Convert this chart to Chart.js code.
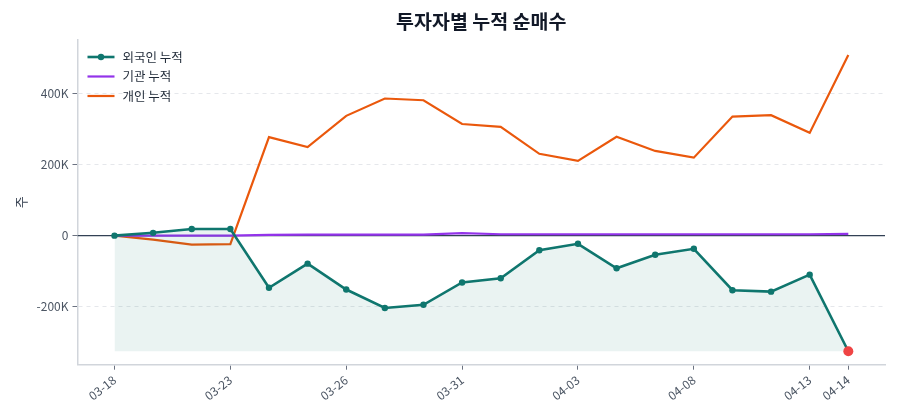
<!DOCTYPE html>
<html>
<head>
<meta charset="utf-8">
<script src="https://cdn.jsdelivr.net/npm/chart.js@4.4.1/dist/chart.umd.min.js"></script>
<style>
  html, body { margin: 0; padding: 0; background: #fff; }
  #wrap { width: 900px; height: 420px; position: relative; }
</style>
</head>
<body>
<div id="wrap"><canvas id="chart"></canvas></div>
<script>
const dates = ['03-18','03-19','03-20','03-23','03-24','03-25','03-26','03-27','03-30','03-31',
               '04-01','04-02','04-03','04-06','04-07','04-08','04-09','04-10','04-13','04-14'];
const tickIndices = [0, 3, 6, 9, 12, 15, 18, 19];
const yTicks = [-200000, 0, 200000, 400000];

// cumulative net buying (shares)
const foreign = [0, 8000, 19000, 19000, -147000, -79000, -152000, -204000, -195000, -132000,
                 -120000, -41000, -23000, -92000, -54000, -37000, -154000, -158000, -110000, -326000];
const institution = [0, 0, 0, 0, 2000, 3000, 3000, 3000, 3000, 7000,
                     4000, 4000, 4000, 4000, 4000, 4000, 4000, 4000, 4000, 5000];
const individual = [0, -11000, -25000, -24000, 278000, 250000, 338000, 387000, 382000, 315000,
                    307000, 231000, 211000, 279000, 239000, 220000, 336000, 340000, 290000, 510000];

const FONT = '"Noto Sans CJK KR", "Noto Sans", sans-serif';
const toXY = arr => arr.map((v, i) => ({x: i, y: v}));
const lastIdx = foreign.length - 1;

const titlePlugin = {
  id: 'areaTitle',
  afterDraw(chart) {
    const {ctx, chartArea} = chart;
    ctx.save();
    ctx.font = 'bold 19.5px ' + FONT;
    ctx.fillStyle = '#111827';
    ctx.textAlign = 'center';
    ctx.textBaseline = 'middle';
    ctx.fillText('투자자별 누적 순매수', (chartArea.left + chartArea.right) / 2, 22);
    ctx.restore();
  }
};

const zeroLine = {
  id: 'zeroLine',
  beforeDatasetsDraw(chart) {
    const {ctx, chartArea, scales} = chart;
    const y = scales.y.getPixelForValue(0);
    ctx.save();
    ctx.strokeStyle = '#334155';
    ctx.lineWidth = 1.3;
    ctx.beginPath();
    ctx.moveTo(chartArea.left, y);
    ctx.lineTo(chartArea.right, y);
    ctx.stroke();
    ctx.restore();
  }
};

const innerLegend = {
  id: 'innerLegend',
  afterDraw(chart) {
    const {ctx, chartArea} = chart;
    const x0 = chartArea.left + 10;
    let y = chartArea.top + 17;
    ctx.save();
    ctx.font = '12.5px ' + FONT;
    ctx.textBaseline = 'middle';
    chart.data.datasets.forEach(ds => {
      ctx.strokeStyle = ds.borderColor;
      ctx.lineWidth = ds.borderWidth;
      ctx.beginPath();
      ctx.moveTo(x0, y);
      ctx.lineTo(x0 + 27, y);
      ctx.stroke();
      if (ds.legendDot) {
        ctx.fillStyle = ds.borderColor;
        ctx.beginPath();
        ctx.arc(x0 + 13.5, y, 3.2, 0, Math.PI * 2);
        ctx.fill();
      }
      ctx.fillStyle = '#1f2937';
      ctx.fillText(ds.label, x0 + 35, y);
      y += 19.5;
    });
    ctx.restore();
  }
};

new Chart(document.getElementById('chart'), {
  type: 'line',
  data: {
    datasets: [
      {
        label: '외국인 누적',
        data: toXY(foreign),
        borderColor: '#0f766e',
        borderWidth: 2.6,
        legendDot: true,
        pointRadius: foreign.map((_, i) => i === lastIdx ? 5 : 3.2),
        pointBackgroundColor: foreign.map((_, i) => i === lastIdx ? '#ef4444' : '#0f766e'),
        pointBorderWidth: 0,
        fill: {value: Math.min(...foreign)},
        backgroundColor: 'rgba(15,118,110,0.085)',
        tension: 0
      },
      {
        label: '기관 누적',
        data: toXY(institution),
        borderColor: '#9333ea',
        borderWidth: 2.2,
        pointRadius: 0,
        fill: false,
        tension: 0
      },
      {
        label: '개인 누적',
        data: toXY(individual),
        borderColor: '#ea580c',
        borderWidth: 2.2,
        pointRadius: 0,
        fill: false,
        tension: 0
      }
    ]
  },
  options: {
    responsive: true,
    maintainAspectRatio: false,
    animation: false,
    layout: {padding: {top: 40, right: 15, left: 9, bottom: 14}},
    plugins: {
      legend: {display: false},
      title: {display: false},
      tooltip: {enabled: false}
    },
    scales: {
      x: {
        type: 'linear',
        min: -0.958,
        max: 19.95,
        afterBuildTicks: axis => { axis.ticks = tickIndices.map(v => ({value: v})); },
        ticks: {
          autoSkip: false,
          minRotation: 38,
          maxRotation: 38,
          color: '#4b5563',
          font: {family: FONT, size: 12},
          padding: 3,
          callback: v => dates[v]
        },
        grid: {drawOnChartArea: false, drawTicks: true, tickLength: 5, tickColor: '#6b7280', tickWidth: 1},
        border: {color: '#d1d5db', width: 1.5}
      },
      y: {
        min: -364000,
        max: 552000,
        afterBuildTicks: axis => { axis.ticks = yTicks.map(v => ({value: v})); },
        ticks: {
          color: '#4b5563',
          font: {family: FONT, size: 12},
          padding: 4,
          callback: v => v === 0 ? '0' : (v / 1000) + 'K'
        },
        title: {display: true, text: '주', color: '#374151', font: {family: FONT, size: 13}},
        grid: {color: '#e5e7eb', lineWidth: 1, drawTicks: true, tickLength: 5, tickColor: '#6b7280', tickBorderDash: []},
        border: {color: '#d1d5db', width: 1.5, dash: [4, 4]}
      }
    }
  },
  plugins: [titlePlugin, zeroLine, innerLegend]
});
</script>
</body>
</html>
